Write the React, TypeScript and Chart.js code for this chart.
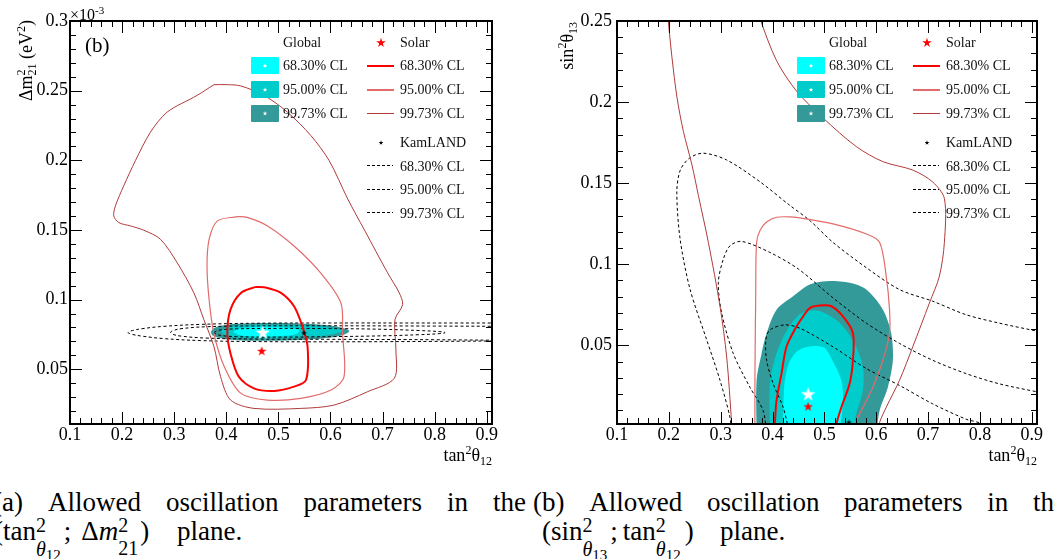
import React, { useEffect, useRef } from "react";
import { Chart, registerables } from "chart.js";

Chart.register(...registerables);

type P = [number, number];

const FONT = '"Liberation Serif", "Times New Roman", serif';

// ---------------- axes ----------------
const xTickValues = [0.1, 0.2, 0.3, 0.4, 0.5, 0.6, 0.7, 0.8, 0.9];
const xTickLabels = ["0.1", "0.2", "0.3", "0.4", "0.5", "0.6", "0.7", "0.8", "0.9"];
const xRange: P = [0.1, 0.91];
const yTickValuesA = [0.05, 0.1, 0.15, 0.2, 0.25, 0.3];
const yTickLabelsA = ["0.05", "0.1", "0.15", "0.2", "0.25", "0.3"];
const yRangeA: P = [0.0107, 0.3];
const yTickValuesB = [0.05, 0.1, 0.15, 0.2, 0.25];
const yTickLabelsB = ["0.05", "0.1", "0.15", "0.2", "0.25"];
const yRangeB: P = [0.0015, 0.25];

const legendLevels = ["68.30% CL", "95.00% CL", "99.73% CL"];
const captionWordsA = ["(a)", "Allowed", "oscillation", "parameters", "in", "the"];
const captionWordsB = ["(b)", "Allowed", "oscillation", "parameters", "in", "the"];

const globalColors = ["#00ffff", "#00cccc", "#339999"];
const solarColors = ["#ff0000", "#e36b6b", "#b03a3a"];
const solarWidths = [2, 1.2, 1];

// ---------------- panel (a): x = tan^2(theta12), y = dm^2_21 [1e-3 eV^2] ----------------
const globalA68: P[] = [[0.413, 0.0768], [0.422, 0.0790], [0.45, 0.0801], [0.49, 0.0804], [0.52, 0.0798], [0.54, 0.0780], [0.533, 0.0752], [0.50, 0.0739], [0.46, 0.0736], [0.427, 0.0745], [0.413, 0.0768]];
const globalA95: P[] = [[0.389, 0.0771], [0.397, 0.0795], [0.42, 0.0812], [0.48, 0.0819], [0.54, 0.0815], [0.59, 0.0803], [0.623, 0.0778], [0.60, 0.0748], [0.54, 0.0730], [0.48, 0.0723], [0.42, 0.0728], [0.397, 0.0745], [0.389, 0.0771]];
const globalA99: P[] = [[0.370, 0.0768], [0.376, 0.0795], [0.395, 0.0815], [0.43, 0.0828], [0.48, 0.0832], [0.54, 0.0829], [0.59, 0.0818], [0.62, 0.0800], [0.636, 0.0776], [0.628, 0.0752], [0.60, 0.0728], [0.55, 0.0712], [0.48, 0.0705], [0.42, 0.0709], [0.39, 0.0722], [0.374, 0.0742], [0.370, 0.0768]];

const solarA68: P[] = [[0.456, 0.1091], [0.428, 0.1048], [0.408, 0.0928], [0.402, 0.076], [0.408, 0.0615], [0.424, 0.0447], [0.453, 0.0363], [0.492, 0.0344], [0.530, 0.0375], [0.553, 0.0423], [0.556, 0.0663], [0.546, 0.0808], [0.530, 0.0952], [0.505, 0.1048], [0.479, 0.1084], [0.456, 0.1091]];
const solarA95: P[] = [[0.421, 0.1596], [0.383, 0.1565], [0.367, 0.1433], [0.363, 0.124], [0.367, 0.1], [0.376, 0.076], [0.396, 0.052], [0.428, 0.0327], [0.479, 0.0279], [0.543, 0.0291], [0.601, 0.0351], [0.626, 0.0447], [0.623, 0.076], [0.620, 0.0976], [0.581, 0.1192], [0.530, 0.1385], [0.479, 0.1529], [0.440, 0.159], [0.421, 0.1596]];
const solarA99: P[] = [[0.3763, 0.2543], [0.344, 0.2466], [0.2865, 0.2346], [0.2545, 0.2202], [0.2256, 0.1998], [0.2032, 0.1817], [0.1872, 0.1673], [0.184, 0.1601], [0.1936, 0.1553], [0.216, 0.1529], [0.2417, 0.1498], [0.2737, 0.1433], [0.3058, 0.1264], [0.3378, 0.1048], [0.357, 0.0856], [0.3763, 0.0663], [0.389, 0.0447], [0.4083, 0.0279], [0.4532, 0.0219], [0.543, 0.0219], [0.607, 0.0243], [0.6712, 0.0339], [0.7224, 0.0435], [0.7256, 0.0639], [0.7237, 0.0856], [0.7385, 0.0964], [0.732, 0.1048], [0.7096, 0.1192], [0.6654, 0.1498], [0.6333, 0.1721], [0.5974, 0.1998], [0.5622, 0.2178], [0.5173, 0.2346], [0.4724, 0.2466], [0.4276, 0.2534], [0.402, 0.2543], [0.3763, 0.2543]];

const kamlandA68: P[] = [[0.376, 0.0763], [0.385, 0.0780], [0.42, 0.0790], [0.5, 0.0793], [0.6, 0.0792], [0.7, 0.0787], [0.77, 0.0778], [0.81, 0.0770], [0.82, 0.0763], [0.81, 0.0756], [0.77, 0.0748], [0.7, 0.0740], [0.6, 0.0734], [0.5, 0.0731], [0.42, 0.0734], [0.385, 0.0746], [0.376, 0.0763]];
const kamlandA95: P[] = [[0.95, 0.0808], [0.8, 0.0810], [0.6, 0.0812], [0.45, 0.0811], [0.36, 0.0805], [0.315, 0.0792], [0.298, 0.0778], [0.293, 0.0764], [0.298, 0.0750], [0.315, 0.0737], [0.36, 0.0724], [0.45, 0.0717], [0.6, 0.0715], [0.8, 0.0712], [0.95, 0.0707]];
const kamlandA99: P[] = [[0.95, 0.0832], [0.8, 0.0832], [0.6, 0.0832], [0.45, 0.0830], [0.35, 0.0822], [0.28, 0.0808], [0.24, 0.0792], [0.22, 0.0778], [0.2115, 0.0764], [0.22, 0.0750], [0.24, 0.0737], [0.28, 0.0720], [0.35, 0.0706], [0.45, 0.0699], [0.6, 0.0697], [0.8, 0.0700], [0.95, 0.0704]];

const bestGlobalA: P = [0.47, 0.0766];
const bestSolarA: P = [0.468, 0.0632];
const bestKamlandA: P = [0.549, 0.0762];

// ---------------- panel (b): x = tan^2(theta12), y = sin^2(theta13) ----------------
const globalB68: P[] = [[0.4204, -0.005], [0.421, 0.015], [0.4237, 0.0284], [0.433, 0.040], [0.45, 0.047], [0.475, 0.0495], [0.50, 0.0485], [0.5165, 0.0400], [0.5327, 0.0284], [0.5358, 0.016], [0.5294, -0.005]];
const globalB95: P[] = [[0.3948, -0.005], [0.3948, 0.0263], [0.4045, 0.042], [0.4204, 0.055], [0.44, 0.065], [0.46, 0.0705], [0.49, 0.0712], [0.5294, 0.0640], [0.5583, 0.0512], [0.5743, 0.0367], [0.5743, 0.0222], [0.5615, 0.0076], [0.555, -0.005]];
const globalB99: P[] = [[0.3692, -0.005], [0.3692, 0.0284], [0.3788, 0.045], [0.3885, 0.0575], [0.4077, 0.072], [0.4396, 0.0803], [0.4717, 0.0875], [0.5038, 0.0896], [0.5487, 0.0886], [0.5808, 0.0844], [0.6128, 0.072], [0.6288, 0.0575], [0.632, 0.0408], [0.6224, 0.0242], [0.6064, 0.0097], [0.6, -0.005]];

const solarB68: P[] = [[0.4045, -0.005], [0.4045, 0.0014], [0.4077, 0.016], [0.4173, 0.0326], [0.4269, 0.0491], [0.4462, 0.0616], [0.4589, 0.0678], [0.4717, 0.073], [0.491, 0.0745], [0.5134, 0.0741], [0.5358, 0.0678], [0.555, 0.0575], [0.555, 0.0408], [0.5486, 0.0263], [0.5327, 0.0118], [0.5231, 0.0014], [0.522, -0.005]];
const solarB95: P[] = [[0.366, -0.005], [0.366, 0.03], [0.3675, 0.08], [0.3692, 0.1135], [0.376, 0.121], [0.3885, 0.126], [0.4077, 0.129], [0.4396, 0.1291], [0.455, 0.1285], [0.5165, 0.1249], [0.5808, 0.1187], [0.6064, 0.1135], [0.6192, 0.0927], [0.6256, 0.072], [0.6256, 0.0575], [0.6128, 0.0408], [0.5935, 0.0242], [0.5679, 0.0076], [0.5583, 0.0014], [0.556, -0.005]];
const solarB99Left: P[] = [[0.1975, 0.26], [0.1986, 0.2515], [0.206, 0.2276], [0.2158, 0.2027], [0.228, 0.182], [0.2446, 0.1612], [0.2569, 0.1425], [0.2762, 0.1135], [0.2987, 0.074], [0.3115, 0.0429], [0.3212, 0.0014], [0.322, -0.005]];
const solarB99Right: P[] = [[0.37, 0.26], [0.3758, 0.2515], [0.4078, 0.2255], [0.4462, 0.2068], [0.4974, 0.1902], [0.5614, 0.1726], [0.6126, 0.1633], [0.6702, 0.1581], [0.7086, 0.1508], [0.7314, 0.1405], [0.7314, 0.1135], [0.7218, 0.0927], [0.7025, 0.0761], [0.6704, 0.0491], [0.6448, 0.0284], [0.6192, 0.0118], [0.6064, 0.0024], [0.603, -0.005]];

const kamlandB68: P[] = [[0.4333, -0.005], [0.4204, 0.0118], [0.4012, 0.0263], [0.3885, 0.0408], [0.3871, 0.0533], [0.3948, 0.0595], [0.4237, 0.0626], [0.4525, 0.0606], [0.5165, 0.0491], [0.5808, 0.0357], [0.6448, 0.0253], [0.7089, 0.0139], [0.7731, 0.0045], [0.805, 0.0014], [0.82, -0.005]];
const kamlandB95: P[] = [[0.3885, -0.005], [0.3819, 0.0097], [0.3563, 0.0242], [0.3242, 0.045], [0.3019, 0.0699], [0.2954, 0.0886], [0.305, 0.1031], [0.3179, 0.1114], [0.3404, 0.1141], [0.3948, 0.1073], [0.45, 0.097], [0.5165, 0.0793], [0.5808, 0.0637], [0.6448, 0.0512], [0.7089, 0.0408], [0.7731, 0.0326], [0.8371, 0.0263], [0.914, 0.0211], [0.95, 0.019]];
const kamlandB99: P[] = [[0.321, -0.005], [0.3179, 0.0055], [0.2987, 0.0284], [0.2731, 0.0533], [0.241, 0.0844], [0.2217, 0.1156], [0.2154, 0.1446], [0.222, 0.158], [0.24, 0.1655], [0.2665, 0.1685], [0.3115, 0.1643], [0.3756, 0.1509], [0.4333, 0.1363], [0.4717, 0.127], [0.5165, 0.1135], [0.5808, 0.0979], [0.6448, 0.0844], [0.7089, 0.0772], [0.7731, 0.0689], [0.8371, 0.0637], [0.914, 0.0585], [0.95, 0.056]];

const bestGlobalB: P = [0.4686, 0.0201];
const bestSolarB: P = [0.4686, 0.0124];
const bestKamlandB: P = [0.547, 0.0025];

// ---------------- helpers ----------------
const toXY = (pts: P[]) => pts.map(([x, y]) => ({ x, y }));

function curve(pts: P[], color: string, width: number, order: number, dash: number[] = [], tension = 0.3) {
  return {
    data: toXY(pts), showLine: true, borderColor: color, borderWidth: width, borderDash: dash,
    pointRadius: 0, pointHoverRadius: 0, pointHitRadius: 0, fill: false, tension, order,
  };
}
function region(pts: P[], color: string, order: number, tension = 0.3) {
  return {
    data: toXY(pts), showLine: true, borderWidth: 0, borderColor: "rgba(0,0,0,0)", backgroundColor: color,
    fill: "shape", pointRadius: 0, pointHoverRadius: 0, pointHitRadius: 0, tension, order,
  };
}
function marker(pt: P, img: HTMLCanvasElement, order: number) {
  return { data: [{ x: pt[0], y: pt[1] }], showLine: false, pointStyle: img, pointRadius: 6, pointHoverRadius: 6, order };
}
function makeStar(size: number, color: string): HTMLCanvasElement {
  const c = document.createElement("canvas");
  c.width = size; c.height = size;
  const g = c.getContext("2d")!;
  const R = size / 2, r = R * 0.4, off = R * 0.095;
  g.beginPath();
  for (let i = 0; i < 10; i++) {
    const a = -Math.PI / 2 + (i * Math.PI) / 5;
    const rad = i % 2 === 0 ? R : r;
    const px = R + rad * Math.cos(a), py = R + off + rad * Math.sin(a);
    if (i === 0) g.moveTo(px, py); else g.lineTo(px, py);
  }
  g.closePath();
  g.fillStyle = color;
  g.fill();
  return c;
}

const rootFrame = {
  id: "rootFrame",
  afterDraw(chart: any, _args: any, opts: any) {
    const { ctx, chartArea: a, scales } = chart;
    const xs = scales.x, ys = scales.y;
    ctx.save();
    ctx.strokeStyle = "#000";
    ctx.lineWidth = 1;
    const isMajor = (v: number, step: number) => Math.abs(v / step - Math.round(v / step)) < 1e-6;
    for (let k = Math.ceil(xs.min / opts.minorX - 1e-6); k * opts.minorX <= xs.max + 1e-9; k++) {
      const v = k * opts.minorX;
      const len = isMajor(v, opts.majorX) ? 12 : 6;
      const p = Math.round(xs.getPixelForValue(v)) + 0.5;
      ctx.beginPath();
      ctx.moveTo(p, a.bottom); ctx.lineTo(p, a.bottom - len);
      ctx.moveTo(p, a.top); ctx.lineTo(p, a.top + len);
      ctx.stroke();
    }
    for (let k = Math.ceil(ys.min / opts.minorY - 1e-6); k * opts.minorY <= ys.max + 1e-9; k++) {
      const v = k * opts.minorY;
      const len = isMajor(v, opts.majorY) ? 12 : 6;
      const p = Math.round(ys.getPixelForValue(v)) + 0.5;
      ctx.beginPath();
      ctx.moveTo(a.left, p); ctx.lineTo(a.left + len, p);
      ctx.moveTo(a.right, p); ctx.lineTo(a.right - len, p);
      ctx.stroke();
    }
    ctx.lineWidth = 2;
    ctx.strokeRect(a.left, a.top, a.right - a.left, a.bottom - a.top);
    ctx.restore();
  },
};

function axis(range: P, values: number[], labels: string[], pad: number, isX: boolean, size: number) {
  return {
    type: "linear", min: range[0], max: range[1],
    afterBuildTicks: (s: any) => { s.ticks = values.map((v) => ({ value: v })); },
    afterFit: (s: any) => { if (isX) s.height = size; else s.width = size; },
    ticks: {
      callback: (_v: any, i: number) => labels[i], font: { family: FONT, size: 18 }, color: "#000",
      padding: pad, maxRotation: 0, autoSkip: false,
    },
    grid: { display: false, drawTicks: false },
    border: { display: false },
  };
}

function makeChart(canvas: HTMLCanvasElement, datasets: any[], yRange: P, yVals: number[], yLabels: string[], left: number, right: number, yPad: number) {
  return new Chart(canvas, {
    type: "scatter",
    data: { datasets },
    options: {
      animation: false, responsive: false, events: [],
      layout: { padding: { left: 0, top: 21, right, bottom: 0 } },
      plugins: { legend: { display: false }, tooltip: { enabled: false }, rootFrame: { majorX: 0.1, minorX: 0.02, majorY: 0.05, minorY: 0.01 } } as any,
      scales: {
        x: axis(xRange, xTickValues, xTickLabels, 0, true, 51) as any,
        y: axis(yRange, yVals, yLabels, yPad, false, left) as any,
      },
    },
    plugins: [rootFrame as any],
  });
}

// ---------------- text helpers ----------------
const Sup = ({ c, size, rise }: any) => <span style={{ fontSize: size, position: "relative", top: -rise }}>{c}</span>;
const Sub = ({ c, size, drop }: any) => <span style={{ fontSize: size, position: "relative", top: drop }}>{c}</span>;
const Stack = ({ sup, sub, size, rise, gap, mr = 0 }: any) => (
  <span style={{ display: "inline-flex", flexDirection: "column", alignItems: "flex-start", fontSize: size, lineHeight: `${gap}px`, position: "relative", top: -rise, verticalAlign: "baseline", marginRight: mr }}>
    <span>{sup}</span>
    <span>{sub}</span>
  </span>
);

const abs = (o: any) => ({ position: "absolute" as const, whiteSpace: "nowrap" as const, ...o });

function StarIcon({ cx, cy, size, color }: any) {
  return <div style={abs({ left: cx - size / 2, top: cy - size / 2, width: size, height: size, background: color, clipPath: "polygon(50% 0%, 61% 35%, 98% 35%, 68% 57%, 79% 91%, 50% 70%, 21% 91%, 32% 57%, 2% 35%, 39% 35%)" })} />;
}

function Legend({ dx }: { dx: number }) {
  const rowsTop = [59, 82.6, 106.6];
  const rowsY = [65.7, 89.7, 113.5];
  const boxTop = [57.3, 81, 105];
  const dashTop = [160, 183.3, 206.6];
  const dashY = [165.7, 189.3, 212.7];
  const t = { fontSize: 14, lineHeight: "14px", color: "#111" };
  return (
    <>
      <div style={abs({ left: 283 + dx, top: 36, ...t })}>Global</div>
      {legendLevels.map((lab, i) => (
        <React.Fragment key={"g" + i}>
          <div style={abs({ left: 251 + dx, top: boxTop[i], width: 28, height: 17, background: globalColors[i], borderRadius: 1 })} />
          <StarIcon cx={265 + dx} cy={rowsY[i]} size={5} color="#fff" />
          <div style={abs({ left: 283 + dx, top: rowsTop[i], ...t })}>{lab}</div>
        </React.Fragment>
      ))}
      <StarIcon cx={381 + dx} cy={42.8} size={10} color="#ff0000" />
      <div style={abs({ left: 400 + dx, top: 36, ...t })}>Solar</div>
      {legendLevels.map((lab, i) => (
        <React.Fragment key={"s" + i}>
          <div style={abs({ left: 367 + dx, top: rowsY[i] - solarWidths[i] / 2, width: 27, height: solarWidths[i] + (i === 0 ? 0.5 : 0.3), background: solarColors[i] })} />
          <div style={abs({ left: 400 + dx, top: rowsTop[i], ...t })}>{lab}</div>
        </React.Fragment>
      ))}
      <StarIcon cx={381 + dx} cy={142.8} size={5} color="#000" />
      <div style={abs({ left: 400 + dx, top: 136, ...t })}>KamLAND</div>
      {legendLevels.map((lab, i) => (
        <React.Fragment key={"k" + i}>
          <div style={abs({ left: 367 + dx, top: dashY[i] - 0.5, width: 26, height: 1, background: "repeating-linear-gradient(to right, #000 0 3px, transparent 3px 5px)" })} />
          <div style={abs({ left: 400 + dx, top: dashTop[i], ...t })}>{lab}</div>
        </React.Fragment>
      ))}
    </>
  );
}

function CaptionLine({ left, top, width, words }: any) {
  return (
    <div style={abs({ left, top, width, display: "flex", justifyContent: "space-between", fontSize: 27, lineHeight: "27px" })}>
      {words.map((w: string, i: number) => <span key={i}>{w}</span>)}
    </div>
  );
}

const capStyle = { fontSize: 27, lineHeight: "27px" };
const ThetaSub = ({ n }: { n: string }) => <><i>θ</i><Sub c={n} size={15} drop={4} /></>;

export default function App() {
  const refA = useRef<HTMLCanvasElement>(null);
  const refB = useRef<HTMLCanvasElement>(null);

  useEffect(() => {
    const white = makeStar(15, "#ffffff");
    const red = makeStar(10, "#ff0000");
    const black = makeStar(6, "#000000");

    const dsA = [
      marker(bestGlobalA, white, 0), marker(bestSolarA, red, 0), marker(bestKamlandA, black, 0),
      curve(solarA68, solarColors[0], solarWidths[0], 1), curve(solarA95, solarColors[1], solarWidths[1], 1), curve(solarA99, solarColors[2], solarWidths[2], 1),
      curve(kamlandA68, "#000", 1, 2, [3, 2.5], 0.4), curve(kamlandA95, "#000", 1, 2, [3, 2.5], 0.4), curve(kamlandA99, "#000", 1, 2, [3, 2.5], 0.4),
      region(globalA68, globalColors[0], 3, 0.4), region(globalA95, globalColors[1], 4, 0.4), region(globalA99, globalColors[2], 5, 0.4),
    ];
    const dsB = [
      marker(bestGlobalB, white, 0), marker(bestSolarB, red, 0), marker(bestKamlandB, black, 0),
      curve(solarB68, solarColors[0], solarWidths[0], 1), curve(solarB95, solarColors[1], solarWidths[1], 1),
      curve(solarB99Left, solarColors[2], solarWidths[2], 1), curve(solarB99Right, solarColors[2], solarWidths[2], 1),
      curve(kamlandB68, "#000", 1, 2, [3, 2.5]), curve(kamlandB95, "#000", 1, 2, [3, 2.5]), curve(kamlandB99, "#000", 1, 2, [3, 2.5]),
      region(globalB68, globalColors[0], 3), region(globalB95, globalColors[1], 4), region(globalB99, globalColors[2], 5),
    ];
    const a = makeChart(refA.current!, dsA, yRangeA, yTickValuesA, yTickLabelsA, 70, 35, 2);
    const b = makeChart(refB.current!, dsB, yRangeB, yTickValuesB, yTickLabelsB, 90, 18, 5);
    return () => { a.destroy(); b.destroy(); };
  }, []);

  const title = { fontSize: 18, lineHeight: "20px", color: "#000" };

  return (
    <div style={{ position: "absolute", left: 0, top: 0, width: 1055, height: 559, overflow: "hidden", background: "#fff", fontFamily: FONT, color: "#000" }}>
      <canvas ref={refA} width={527} height={475} style={{ position: "absolute", left: 0, top: 0, width: 527, height: 475 }} />
      <canvas ref={refB} width={528} height={475} style={{ position: "absolute", left: 527, top: 0, width: 528, height: 475 }} />

      {/* panel (a) texts */}
      <div style={abs({ left: 70, top: 6.6, fontSize: 16, lineHeight: "16px" })}>×10<Sup c="-3" size={11} rise={6} /></div>
      <div style={abs({ left: 85, top: 35.3, fontSize: 21, lineHeight: "21px" })}>(b)</div>
      <div style={abs({ left: 16, top: 220, width: 200, height: 20, textAlign: "right", transformOrigin: "0 0", transform: "rotate(-90deg)", ...title })}>
        Δm<Stack sup="2" sub="21" size={12} rise={7} gap={11} /> (eV<Sup c="2" size={12} rise={7} />)
      </div>
      <div style={abs({ left: 292, top: 445, width: 200, textAlign: "right", ...title })}>
        tan<Sup c="2" size={12} rise={7} />θ<Sub c="12" size={12} drop={4} />
      </div>
      <Legend dx={0} />

      {/* panel (b) texts */}
      <div style={abs({ left: 557, top: 222, width: 200, height: 20, textAlign: "right", transformOrigin: "0 0", transform: "rotate(-90deg)", ...title })}>
        sin<Sup c="2" size={12} rise={7} />θ<Sub c="13" size={12} drop={4} />
      </div>
      <div style={abs({ left: 837, top: 445, width: 200, textAlign: "right", ...title })}>
        tan<Sup c="2" size={12} rise={7} />θ<Sub c="12" size={12} drop={4} />
      </div>
      <Legend dx={546} />

      {/* captions */}
      <CaptionLine left={-7} top={488.7} width={533} words={captionWordsA} />
      <CaptionLine left={533} top={488.7} width={533} words={captionWordsB} />
      <div style={abs({ left: -6, top: 518.4, ...capStyle })}>
        (tan<Stack sup="2" sub={<ThetaSub n="12" />} size={20} rise={8} gap={24} mr={3} />;<span style={{ marginLeft: 10 }}>Δ</span><i>m</i><Stack sup="2" sub="21" size={20} rise={8} gap={23} mr={2} />)
      </div>
      <div style={abs({ left: 177, top: 518.4, ...capStyle })}>plane.</div>
      <div style={abs({ left: 542, top: 518.4, ...capStyle })}>
        (sin<Stack sup="2" sub={<ThetaSub n="13" />} size={20} rise={8} gap={24} mr={3} />;<span style={{ marginLeft: 5 }}>tan</span><Stack sup="2" sub={<ThetaSub n="12" />} size={20} rise={8} gap={24} mr={4} />)
      </div>
      <div style={abs({ left: 720, top: 518.4, ...capStyle })}>plane.</div>
    </div>
  );
}
